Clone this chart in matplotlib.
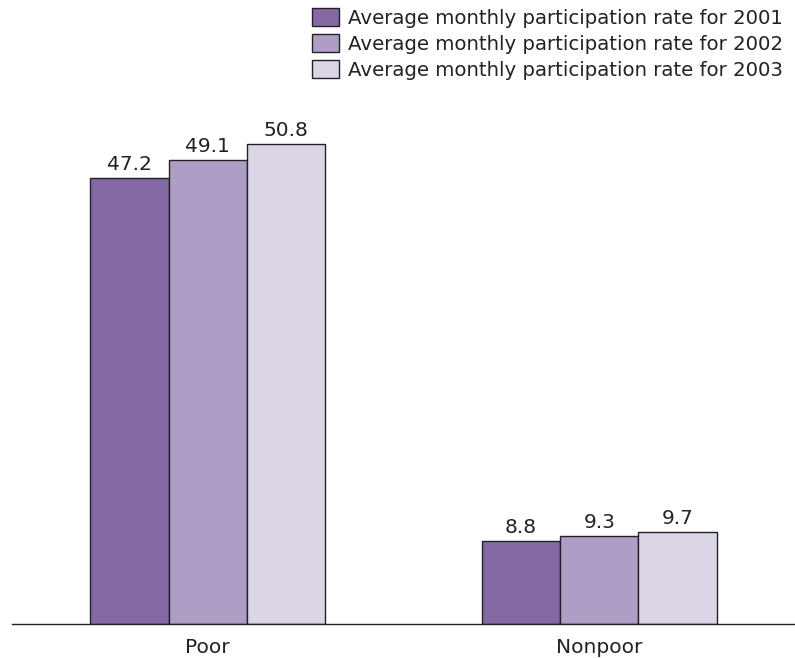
import matplotlib
matplotlib.use("Agg")
import matplotlib.pyplot as plt
import numpy as np

categories = ["Poor", "Nonpoor"]
series_names = ["Average monthly participation rate for 2001",
                "Average monthly participation rate for 2002",
                "Average monthly participation rate for 2003"]
values_2001 = [47.2, 8.8]
values_2002 = [49.1, 9.3]
values_2003 = [50.8, 9.7]
colors = ["#8469a4", "#ae9ec6", "#dcd5e6"]

plt.rcParams['font.family'] = ['DejaVu Sans']
FS = 14.5
LFS = 14.2

W, H = 795, 658
fig = plt.figure(figsize=(W/100, H/100), dpi=100)
ax = fig.add_axes([12/W, (H-624)/H, 783/W, (624-90)/H])

x = np.arange(len(categories))
width = 0.2
series = [values_2001, values_2002, values_2003]
for i, (vals, name, c) in enumerate(zip(series, series_names, colors)):
    bars = ax.bar(x + (i-1)*width, vals, width, color=c, edgecolor="#222222",
                  linewidth=1, label=name)
    for b, v in zip(bars, vals):
        ax.annotate(f"{v:.1f}", (b.get_x()+b.get_width()/2, v), xytext=(0, 6),
                    textcoords="offset points", ha="center", va="baseline",
                    fontsize=FS, color="#222222")

ax.set_xlim(-0.5, 1.5)
ax.set_ylim(0, (624-90)/9.45)
ax.set_xticks(x)
ax.set_xticklabels(categories, fontsize=FS, color="#222222")
ax.tick_params(axis="x", length=0, pad=10)
ax.set_yticks([])
for s in ["top", "right", "left"]:
    ax.spines[s].set_visible(False)
ax.spines["bottom"].set_color("#222222")
ax.spines["bottom"].set_linewidth(1)

leg = fig.legend(loc="upper left", bbox_to_anchor=(312/W, 1 - 8/H), frameon=False,
                 fontsize=LFS, handlelength=1.37, handleheight=1.0, handletextpad=0.45,
                 labelspacing=0.33, borderaxespad=0, borderpad=0)
for t in leg.get_texts():
    t.set_color("#222222")
for p in leg.get_patches():
    p.set_edgecolor("#222222")

fig.savefig("out.png", dpi=100)
